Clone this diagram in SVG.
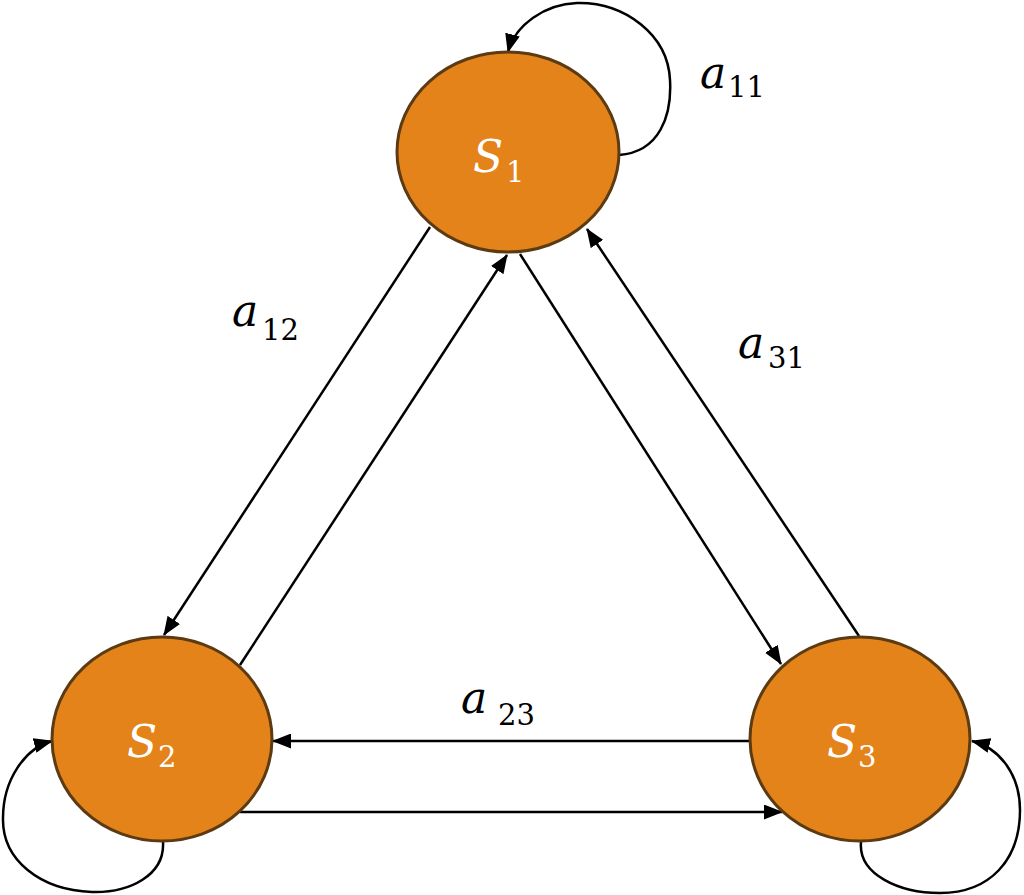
<svg xmlns="http://www.w3.org/2000/svg" width="1024" height="895" viewBox="0 0 1024 895">
<style>
.node{fill:#e3831a;stroke:#5c3a12;stroke-width:3}
.edge{fill:none;stroke:#000;stroke-width:2.5}
.it{font-family:"DejaVu Serif",serif;font-style:italic;font-size:44px}
.sub{font-family:"DejaVu Serif",serif;font-style:normal;font-size:29px}
.w{fill:#fff}
.k{fill:#000}
</style>
<defs>
<marker id="arr" markerUnits="userSpaceOnUse" markerWidth="19" markerHeight="15" refX="18" refY="7.5" orient="auto">
<path d="M0,0 L19,7.5 L0,15 Z" fill="#000"/>
</marker>
</defs>
<g id="connectors">
<path class="edge" d="M430,227 L164,635" marker-end="url(#arr)"/>
<path class="edge" d="M240,665 L507,255" marker-end="url(#arr)"/>
<path class="edge" d="M520,254 L781,664" marker-end="url(#arr)"/>
<path class="edge" d="M859,636 L587,229" marker-end="url(#arr)"/>
<path class="edge" d="M750,741 L273,741" marker-end="url(#arr)"/>
<path class="edge" d="M240,812 L782,812" marker-end="url(#arr)"/>
<path class="edge" d="M619,155 C660,152 672,115 670,80 C668,35 625,2 577,3 C545,4 515,25 508,52" marker-end="url(#arr)"/>
<path class="edge" d="M163,842 C165,875 130,893 92,892 C40,890 2,860 3,818 C3,780 25,748 52,741" marker-end="url(#arr)"/>
<path class="edge" d="M861,842 C858,875 900,893 940,893 C990,893 1020,860 1020,810 C1020,775 1000,748 972,741" marker-end="url(#arr)"/>
</g>
<g id="S1">
<ellipse class="node" cx="508" cy="152" rx="111" ry="100"/>
<text class="w"><tspan class="it" x="473" y="172">S</tspan><tspan class="sub" x="506" y="182">1</tspan></text>
</g>
<g id="S2">
<ellipse class="node" cx="162" cy="739" rx="110" ry="102"/>
<text class="w"><tspan class="it" x="127" y="757">S</tspan><tspan class="sub" x="158" y="767">2</tspan></text>
</g>
<g id="S3">
<ellipse class="node" cx="860" cy="739" rx="110" ry="102"/>
<text class="w"><tspan class="it" x="827" y="757">S</tspan><tspan class="sub" x="858" y="767">3</tspan></text>
</g>
<g id="labels">
<text class="k"><tspan class="it" x="700" y="88">a</tspan><tspan class="sub" x="728" y="97">11</tspan></text>
<text class="k"><tspan class="it" x="232" y="326">a</tspan><tspan class="sub" x="262" y="340">12</tspan></text>
<text class="k"><tspan class="it" x="461" y="713">a</tspan><tspan class="sub" x="498" y="725">23</tspan></text>
<text class="k"><tspan class="it" x="738" y="358">a</tspan><tspan class="sub" x="768" y="368">31</tspan></text>
</g>
</svg>
